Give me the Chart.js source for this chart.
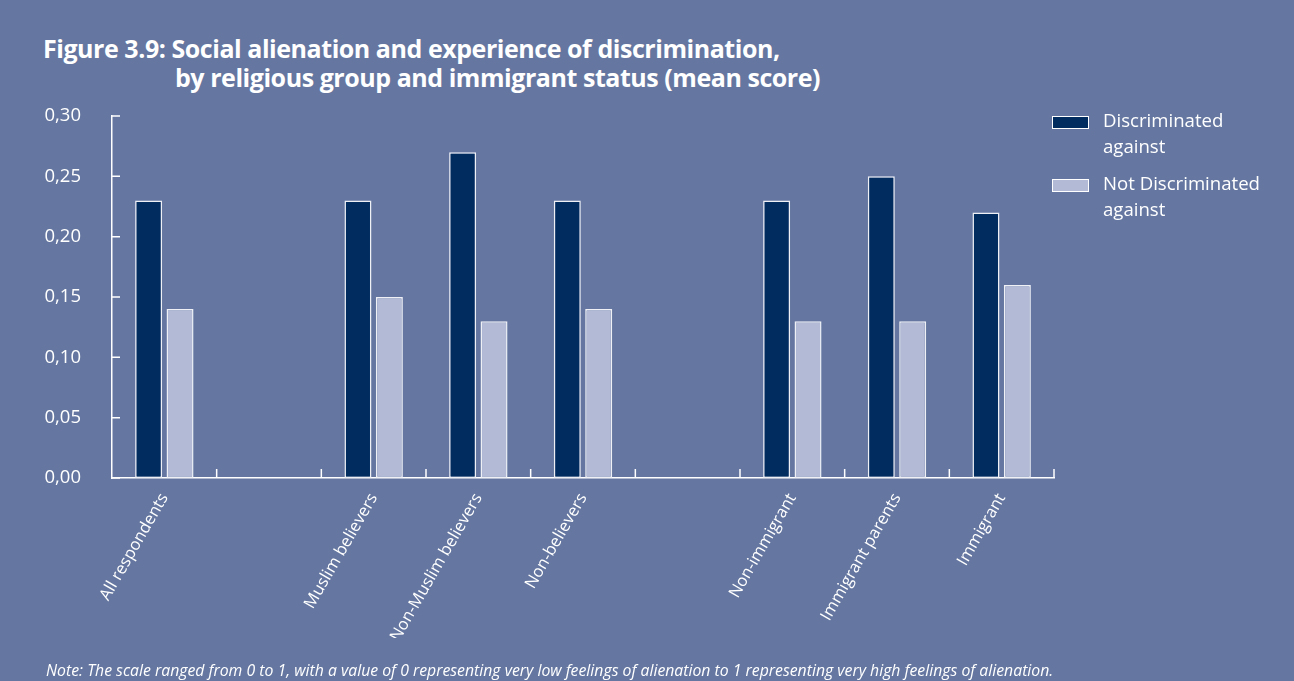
<!DOCTYPE html>
<html>
<head>
<meta charset="utf-8">
<script src="https://cdn.jsdelivr.net/npm/chart.js@4/dist/chart.umd.min.js"></script>
<style>
    html, body { margin: 0; padding: 0; }
    body { width: 1294px; height: 681px; background: #6577a0; position: relative; overflow: hidden; color: #fff; }
    #wrap { position: absolute; left: 0; top: 0; width: 1294px; height: 681px; }
    .title { position: absolute; font-family: "Open Sans", sans-serif; font-weight: bold; font-size: 25px; white-space: nowrap; letter-spacing: -0.45px; }
    .legend { position: absolute; left: 1052px; font-family: "Open Sans", sans-serif; font-size: 18.6px; line-height: 26px; }
    .legend .box { position: absolute; left: 0; width: 35px; height: 11px; border: 1.5px solid #fff; }
    .legend .txt { position: absolute; left: 51px; white-space: nowrap; }
    #note { position: absolute; left: 46px; top: 659px; font-family: "Open Sans", sans-serif; font-style: italic; font-size: 15.8px; white-space: nowrap; }
</style>
</head>
<body>
<div class="title" style="left:43px; top:31px;">Figure 3.9: Social alienation and experience of discrimination,</div>
<div class="title" style="left:175px; top:60px;">by religious group and immigrant status (mean score)</div>
<div id="wrap"><canvas id="chart"></canvas></div>
<div class="legend" style="top:116px;">
    <div class="box" style="background:#002c5f;"></div>
    <div class="txt" style="top:-9px;">Discriminated<br>against</div>
</div>
<div class="legend" style="top:179px;">
    <div class="box" style="background:#b2bad6;"></div>
    <div class="txt" style="top:-9px;">Not Discriminated<br>against</div>
</div>
<div id="note">Note: The scale ranged from 0 to 1, with a value of 0 representing very low feelings of alienation to 1 representing very high feelings of alienation.</div>
<script>
// 카테고리 (빈 칸은 그룹 사이 간격)
const categories = ['All respondents', '', 'Muslim believers', 'Non-Muslim believers', 'Non-believers', '', 'Non-immigrant', 'Immigrant parents', 'Immigrant'];

// 평균 점수
const discriminated = [0.23, null, 0.23, 0.27, 0.23, null, 0.23, 0.25, 0.22];
const notDiscriminated = [0.14, null, 0.15, 0.13, 0.14, null, 0.13, 0.13, 0.16];

// y축 눈금
const yMin = 0;
const yMax = 0.30;
const yStep = 0.05;

// 축 안쪽으로 향하는 눈금 표시
const innerTicks = {
    id: 'innerTicks',
    afterDraw(chart) {
        const { ctx, scales: { x, y } } = chart;
        ctx.save();
        ctx.strokeStyle = '#ffffff';
        ctx.lineWidth = 1.5;
        ctx.beginPath();
        for (let i = 1; i < categories.length; i++) {
            const px = (x.getPixelForValue(i - 1) + x.getPixelForValue(i)) / 2;
            ctx.moveTo(px, y.bottom);
            ctx.lineTo(px, y.bottom - 9);
        }
        ctx.moveTo(x.right, y.bottom);
        ctx.lineTo(x.right, y.bottom - 9);
        y.ticks.forEach(t => {
            const py = y.getPixelForValue(t.value);
            ctx.moveTo(x.left, py);
            ctx.lineTo(x.left + 8, py);
        });
        ctx.stroke();
        ctx.restore();
    }
};

const ctx = document.getElementById('chart').getContext('2d');
new Chart(ctx, {
    type: 'bar',
    data: {
        labels: categories,
        datasets: [{
            label: 'Discriminated against',
            data: discriminated,
            backgroundColor: '#002c5f',
            borderColor: '#eef0f6',
            borderWidth: 1.5,
            borderSkipped: false
        }, {
            label: 'Not Discriminated against',
            data: notDiscriminated,
            backgroundColor: '#b2bad6',
            borderColor: '#eef0f6',
            borderWidth: 1.5,
            borderSkipped: false
        }]
    },
    options: {
        responsive: true,
        maintainAspectRatio: false,
        animation: false,
        categoryPercentage: 0.6,
        barPercentage: 0.86,
        layout: { padding: { left: 40, right: 240, top: 116, bottom: 43 } },
        plugins: {
            legend: { display: false },
            tooltip: { enabled: false }
        },
        scales: {
            x: {
                grid: { display: false, drawTicks: false },
                border: { color: '#ffffff', width: 1.5 },
                ticks: {
                    color: '#ffffff',
                    font: { family: 'Open Sans', size: 16.5 },
                    minRotation: 60,
                    maxRotation: 60,
                    autoSkip: false,
                    padding: 12
                },
                afterFit(scale) { scale.height = 160; }
            },
            y: {
                min: yMin,
                max: yMax,
                grid: { display: false, drawTicks: false },
                border: { color: '#ffffff', width: 1.5 },
                ticks: {
                    stepSize: yStep,
                    color: '#ffffff',
                    font: { family: 'Open Sans', size: 18.5 },
                    padding: 31,
                    callback: v => v.toFixed(2).replace('.', ',')
                },
                afterFit(scale) { scale.width = 72; }
            }
        }
    },
    plugins: [innerTicks]
});
</script>
</body>
</html>
